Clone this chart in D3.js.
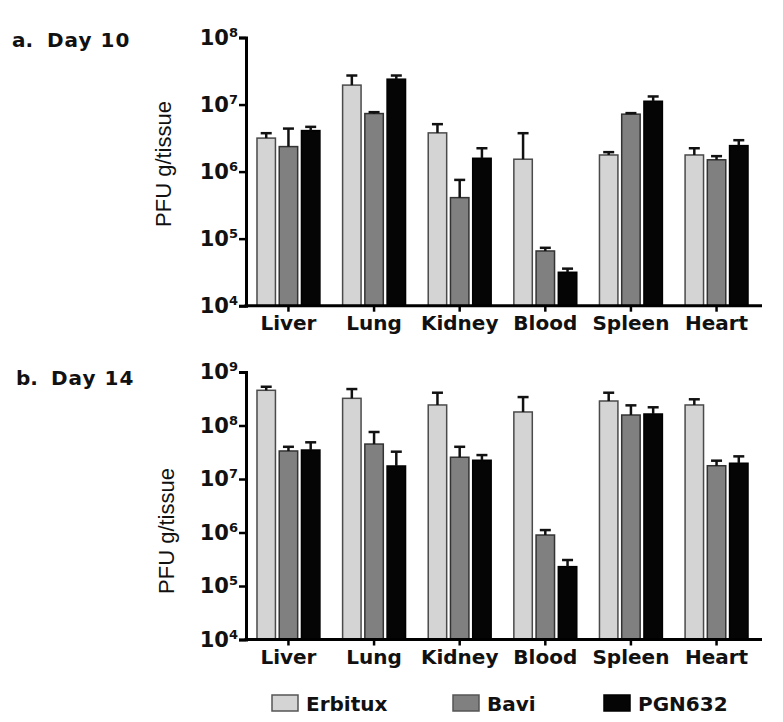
<!DOCTYPE html>
<html>
<head>
<meta charset="utf-8">
<script src="https://cdn.jsdelivr.net/npm/d3@7/dist/d3.min.js"></script>
<style>
  html, body { margin: 0; padding: 0; background: #fff; }
  svg { display: block; }
</style>
</head>
<body>
<svg id="chart" width="783" height="722"></svg>
<script>
// ---------------- DATA ----------------
const categories = ["Liver", "Lung", "Kidney", "Blood", "Spleen", "Heart"];
const seriesNames = ["Erbitux", "Bavi", "PGN632"];

// Day 10 means (PFU g/tissue)
const day10Erbitux = [3.16e6, 1.95e7, 3.78e6, 1.53e6, 1.77e6, 1.77e6];
const day10Bavi    = [2.36e6, 7.34e6, 4.09e5, 6.55e4, 7.19e6, 1.50e6];
const day10PGN632  = [4.09e6, 2.39e7, 1.58e6, 3.15e4, 1.12e7, 2.44e6];
// Day 10 error (upper)
const day10ErbituxErr = [5.8e5, 7.6e6, 1.32e6, 2.21e6, 1.8e5, 4.6e5];
const day10BaviErr    = [2.02e6, 3.6e5, 3.43e5, 7.5e3, 2.6e5, 2.0e5];
const day10PGN632Err  = [5.6e5, 3.2e6, 6.5e5, 4.2e3, 2.0e6, 5.0e5];

// Day 14 means
const day14Erbitux = [4.55e8, 3.22e8, 2.42e8, 1.79e8, 2.87e8, 2.42e8];
const day14Bavi    = [3.34e7, 4.5e7, 2.55e7, 8.97e5, 1.57e8, 1.77e7];
const day14PGN632  = [3.48e7, 1.75e7, 2.24e7, 2.3e5, 1.64e8, 1.97e7];
// Day 14 error (upper)
const day14ErbituxErr = [7.5e7, 1.58e8, 1.68e8, 1.61e8, 1.23e8, 6.7e7];
const day14BaviErr    = [6.6e6, 3.06e7, 1.45e7, 2.13e5, 8.1e7, 4.3e6];
const day14PGN632Err  = [1.37e7, 1.49e7, 5.6e6, 7.6e4, 5.5e7, 6.8e6];

const day10TickExps = [4, 5, 6, 7, 8];
const day14TickExps = [4, 5, 6, 7, 8, 9];

const panelTitles = ["a.", "b."];
const panelDays = ["Day 10", "Day 14"];
const yTitle = "PFU g/tissue";

// ---------------- STYLE ----------------
const fills = { "Erbitux": "#d4d4d4", "Bavi": "#808080", "PGN632": "#050505" };
const strokes = { "Erbitux": "#4a4a4a", "Bavi": "#333", "PGN632": "#000" };
const boldFont = "'DejaVu Sans', sans-serif";
const armFont = "'Liberation Sans', Arial, sans-serif";

const svg = d3.select("#chart");

const x0 = d3.scaleBand().domain(categories).range([245, 760])
  .paddingInner(0.265).paddingOuter(0.14);
const x1 = d3.scaleBand().domain(seriesNames).range([0, x0.bandwidth()])
  .paddingInner(0.17);

function panel(cfg) {
  const g = svg.append("g");
  const y = d3.scaleLog().domain([1e4, Math.pow(10, cfg.maxExp)]).range([cfg.bottom, cfg.top]);
  const axisX = 246;
  const rows = categories.map((c, i) => ({
    cat: c,
    vals: seriesNames.map((s, j) => ({ s, v: cfg.means[j][i], e: cfg.errs[j][i] }))
  }));

  // bars
  const grp = g.selectAll("g.grp").data(rows).join("g")
    .attr("transform", d => `translate(${x0(d.cat)},0)`);
  grp.selectAll("rect").data(d => d.vals).join("rect")
    .attr("x", d => x1(d.s))
    .attr("y", d => y(d.v))
    .attr("width", x1.bandwidth())
    .attr("height", d => cfg.bottom - y(d.v))
    .attr("fill", d => fills[d.s])
    .attr("stroke", d => strokes[d.s])
    .attr("stroke-width", 1.5);

  // error bars
  const capW = 11;
  grp.selectAll("line.err").data(d => d.vals).join("line")
    .attr("class", "err")
    .attr("x1", d => x1(d.s) + x1.bandwidth() / 2)
    .attr("x2", d => x1(d.s) + x1.bandwidth() / 2)
    .attr("y1", d => y(d.v))
    .attr("y2", d => y(d.v + d.e))
    .attr("stroke", "#111").attr("stroke-width", 2.5);
  grp.selectAll("line.cap").data(d => d.vals).join("line")
    .attr("class", "cap")
    .attr("x1", d => x1(d.s) + x1.bandwidth() / 2 - capW / 2)
    .attr("x2", d => x1(d.s) + x1.bandwidth() / 2 + capW / 2)
    .attr("y1", d => y(d.v + d.e))
    .attr("y2", d => y(d.v + d.e))
    .attr("stroke", "#111").attr("stroke-width", 2.5);

  // y axis
  const yAxis = d3.axisLeft(y).tickValues(cfg.tickExps.map(e => Math.pow(10, e)))
    .tickSize(7).tickFormat("");
  const ya = g.append("g").attr("transform", `translate(${axisX},0)`).call(yAxis);
  ya.select(".domain").attr("stroke", "#000").attr("stroke-width", 3);
  ya.selectAll(".tick line").attr("stroke", "#000").attr("stroke-width", 2.5);

  // y tick labels 10^n
  cfg.tickExps.forEach(e => {
    const t = g.append("text")
      .attr("x", 238).attr("y", y(Math.pow(10, e)) + 7)
      .attr("text-anchor", "end")
      .attr("font-family", boldFont).attr("font-weight", "bold")
      .attr("font-size", 21).attr("fill", "#111");
    t.append("tspan").text("10");
    t.append("tspan").attr("dy", -8).attr("font-size", 13).text(String(e));
  });

  // x axis
  g.append("line").attr("x1", axisX - 1.5).attr("x2", 762)
    .attr("y1", cfg.bottom).attr("y2", cfg.bottom)
    .attr("stroke", "#000").attr("stroke-width", 3);
  const xAxis = d3.axisBottom(x0).tickSize(6).tickSizeOuter(0).tickFormat("");
  const xa = g.append("g").attr("transform", `translate(0,${cfg.bottom})`).call(xAxis);
  xa.select(".domain").remove();
  xa.selectAll(".tick line").attr("stroke", "#000").attr("stroke-width", 2.5);

  g.selectAll("text.cat").data(categories).join("text")
    .attr("class", "cat")
    .attr("x", d => x0(d) + x0.bandwidth() / 2)
    .attr("y", cfg.bottom + 24.5)
    .attr("text-anchor", "middle")
    .attr("font-family", boldFont).attr("font-weight", "bold")
    .attr("font-size", 20).attr("fill", "#111")
    .text(d => d);

  // y title
  g.append("text")
    .attr("transform", `translate(${cfg.yTitleX},${cfg.yTitleY}) rotate(-90)`)
    .attr("text-anchor", "middle")
    .attr("font-family", armFont).attr("font-size", 22).attr("fill", "#111")
    .text(yTitle);

  // panel title
  const tt = g.append("text")
    .attr("x", cfg.titleX).attr("y", cfg.titleY)
    .attr("font-family", boldFont).attr("font-weight", "bold")
    .attr("font-size", 20).attr("fill", "#111");
  tt.append("tspan").text(cfg.label);
  tt.append("tspan").attr("x", cfg.titleX + 35).attr("letter-spacing", 1).text(cfg.day);
}

panel({
  top: 37.5, bottom: 305.7, maxExp: 8, tickExps: day10TickExps,
  means: [day10Erbitux, day10Bavi, day10PGN632],
  errs: [day10ErbituxErr, day10BaviErr, day10PGN632Err],
  yTitleX: 171, yTitleY: 164, titleX: 12, titleY: 47,
  label: panelTitles[0], day: panelDays[0]
});

panel({
  top: 372, bottom: 639.5, maxExp: 9, tickExps: day14TickExps,
  means: [day14Erbitux, day14Bavi, day14PGN632],
  errs: [day14ErbituxErr, day14BaviErr, day14PGN632Err],
  yTitleX: 174, yTitleY: 531, titleX: 16, titleY: 385,
  label: panelTitles[1], day: panelDays[1]
});

// legend
const legendX = [272, 453, 604];
const lg = svg.append("g");
seriesNames.forEach((s, i) => {
  lg.append("rect").attr("x", legendX[i]).attr("y", 695)
    .attr("width", 26).attr("height", 16)
    .attr("fill", fills[s]).attr("stroke", strokes[s] === "#000" ? "#000" : "#555")
    .attr("stroke-width", 1.5);
  lg.append("text").attr("x", legendX[i] + 34).attr("y", 711)
    .attr("font-family", boldFont).attr("font-weight", "bold")
    .attr("font-size", 20).attr("fill", "#111")
    .text(s);
});
</script>
</body>
</html>
